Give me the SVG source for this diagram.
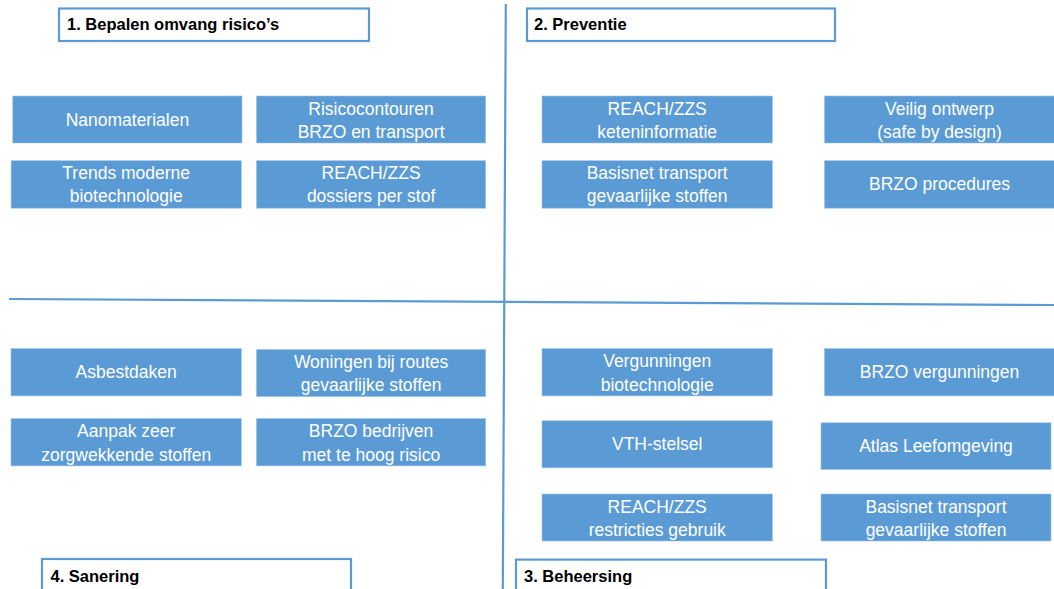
<svg xmlns="http://www.w3.org/2000/svg" width="1054" height="589" viewBox="0 0 1054 589">
<style>
.hdr{fill:#ffffff;stroke:#5b9bd5;stroke-width:2.2}
.ht{font-family:"Liberation Sans",Arial,sans-serif;font-weight:bold;font-size:16.5px;fill:#000000}
.box{fill:#5b9bd5;stroke:#9dc3e6;stroke-width:0.6}
.bt{font-family:"Liberation Sans",Arial,sans-serif;font-size:17.5px;fill:#ffffff;text-anchor:middle}
.ln{stroke:#5b9bd5;stroke-width:2.2;fill:none}
</style>
<rect width="1054" height="589" fill="#ffffff"/>
<g id="connectors">
<line class="ln" x1="505.8" y1="4" x2="502.8" y2="589"/>
<line class="ln" x1="9" y1="299" x2="1054" y2="305"/>
</g>
<g id="header1"><rect class="hdr" x="59" y="8.5" width="310" height="32.5"/><text class="ht" x="67" y="30">1. Bepalen omvang risico’s</text></g>
<g id="header2"><rect class="hdr" x="527" y="8.5" width="308" height="32.5"/><text class="ht" x="534" y="30">2. Preventie</text></g>
<g id="header4"><rect class="hdr" x="42" y="559" width="309" height="40"/><text class="ht" x="50.5" y="582">4. Sanering</text></g>
<g id="header3"><rect class="hdr" x="516" y="559.6" width="310" height="40"/><text class="ht" x="524" y="582">3. Beheersing</text></g>

<g id="n-nanomaterialen"><rect class="box" x="12.8" y="96" width="229.2" height="47"/><text class="bt" x="127.4" y="125.5">Nanomaterialen</text></g>
<g id="n-risicocontouren"><rect class="box" x="256.5" y="96" width="229.2" height="47"/><text class="bt" x="371.1" y="114.5">Risicocontouren</text><text class="bt" x="371.1" y="138">BRZO en transport</text></g>
<g id="n-trends"><rect class="box" x="11.1" y="160.7" width="230.2" height="47.5"/><text class="bt" x="126.2" y="179.2">Trends moderne</text><text class="bt" x="126.2" y="202">biotechnologie</text></g>
<g id="n-reach-dossiers"><rect class="box" x="256.5" y="160.7" width="229.2" height="47.5"/><text class="bt" x="371.1" y="179.2">REACH/ZZS</text><text class="bt" x="371.1" y="202">dossiers per stof</text></g>

<g id="n-reach-keten"><rect class="box" x="542" y="96" width="230.4" height="47"/><text class="bt" x="657.2" y="114.5">REACH/ZZS</text><text class="bt" x="657.2" y="138">keteninformatie</text></g>
<g id="n-veilig"><rect class="box" x="824.5" y="96" width="232" height="47"/><text class="bt" x="939.5" y="114.5">Veilig ontwerp</text><text class="bt" x="939.5" y="138">(safe by design)</text></g>
<g id="n-basisnet1"><rect class="box" x="542" y="160.7" width="230.4" height="47.5"/><text class="bt" x="657.2" y="179.2">Basisnet transport</text><text class="bt" x="657.2" y="202">gevaarlijke stoffen</text></g>
<g id="n-brzo-proc"><rect class="box" x="824.5" y="160.7" width="232" height="47.5"/><text class="bt" x="939.5" y="190">BRZO procedures</text></g>

<g id="n-asbest"><rect class="box" x="11" y="348.5" width="230.3" height="47.4"/><text class="bt" x="126.2" y="378">Asbestdaken</text></g>
<g id="n-woningen"><rect class="box" x="256.5" y="349.5" width="229.2" height="47.1"/><text class="bt" x="371.1" y="367.5">Woningen bij routes</text><text class="bt" x="371.1" y="391">gevaarlijke stoffen</text></g>
<g id="n-aanpak"><rect class="box" x="11" y="418.5" width="230.3" height="47.4"/><text class="bt" x="126.2" y="437">Aanpak zeer</text><text class="bt" x="126.2" y="460.5">zorgwekkende stoffen</text></g>
<g id="n-brzo-bedr"><rect class="box" x="256.5" y="418.5" width="229.2" height="47.4"/><text class="bt" x="371.1" y="437">BRZO bedrijven</text><text class="bt" x="371.1" y="460.5">met te hoog risico</text></g>

<g id="n-vergunningen-bio"><rect class="box" x="542" y="348.5" width="230.4" height="47.4"/><text class="bt" x="657.2" y="367">Vergunningen</text><text class="bt" x="657.2" y="390.5">biotechnologie</text></g>
<g id="n-brzo-verg"><rect class="box" x="824.5" y="348.5" width="232" height="47.4"/><text class="bt" x="939.5" y="378">BRZO vergunningen</text></g>
<g id="n-vth"><rect class="box" x="542" y="420.8" width="230.4" height="47"/><text class="bt" x="657.2" y="450">VTH-stelsel</text></g>
<g id="n-atlas"><rect class="box" x="821" y="422.8" width="230" height="46.7"/><text class="bt" x="936" y="452">Atlas Leefomgeving</text></g>
<g id="n-reach-restr"><rect class="box" x="542" y="494" width="230.4" height="47"/><text class="bt" x="657.2" y="512.5">REACH/ZZS</text><text class="bt" x="657.2" y="536">restricties gebruik</text></g>
<g id="n-basisnet2"><rect class="box" x="821" y="494" width="230" height="47"/><text class="bt" x="936" y="512.5">Basisnet transport</text><text class="bt" x="936" y="536">gevaarlijke stoffen</text></g>
</svg>
